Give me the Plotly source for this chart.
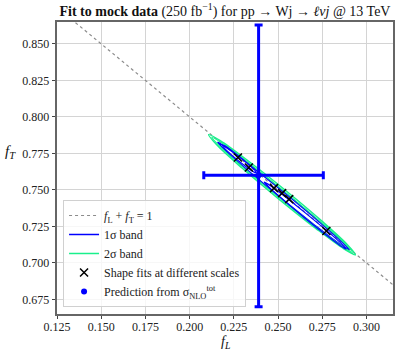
import plotly.graph_objects as go

# ---------------- data ----------------
# f_L + f_T = 1 reference line (f_L end points)
line_fl = [0.125, 0.315]
line_ft = [1 - v for v in line_fl]

# 2-sigma contour outlines
g_out_fl = [0.2938, 0.2892, 0.2748, 0.2543, 0.2332, 0.2173, 0.2107, 0.2153, 0.2298, 0.2503, 0.2713, 0.2872, 0.2938]
g_out_ft = [0.7056, 0.7125, 0.7286, 0.7496, 0.7698, 0.7838, 0.7879, 0.7809, 0.7648, 0.7439, 0.7237, 0.7097, 0.7056]
g_in_fl = [0.2921, 0.2875, 0.2734, 0.2537, 0.2336, 0.2185, 0.2125, 0.2171, 0.2311, 0.2508, 0.2709, 0.2860, 0.2921]
g_in_ft = [0.7073, 0.7136, 0.7288, 0.7488, 0.7683, 0.7819, 0.7861, 0.7798, 0.7646, 0.7446, 0.7252, 0.7116, 0.7073]

# 1-sigma contour outlines
b_out_fl = [0.2903, 0.2859, 0.2727, 0.2543, 0.2355, 0.2215, 0.2159, 0.2203, 0.2335, 0.2520, 0.2707, 0.2847, 0.2903]
b_out_ft = [0.7089, 0.7147, 0.7288, 0.7474, 0.7656, 0.7784, 0.7825, 0.7768, 0.7627, 0.7440, 0.7258, 0.7130, 0.7089]
b_up_fl = [0.2377, 0.2368, 0.2336, 0.2239, 0.2202, 0.2185, 0.2194, 0.2227, 0.2323, 0.2361, 0.2377]
b_up_ft = [0.7616, 0.7635, 0.7673, 0.7769, 0.7800, 0.7807, 0.7789, 0.7750, 0.7655, 0.7624, 0.7616]
b_lo_fl = [0.2885, 0.2858, 0.2776, 0.2661, 0.2544, 0.2457, 0.2422, 0.2449, 0.2531, 0.2645, 0.2762, 0.2850, 0.2885]
b_lo_ft = [0.7095, 0.7132, 0.7220, 0.7336, 0.7450, 0.7529, 0.7554, 0.7518, 0.7430, 0.7313, 0.7200, 0.7120, 0.7095]

# shape fits at different scales
fits_fl = [0.2273, 0.2335, 0.2477, 0.2523, 0.2563, 0.2773]
fits_ft = [0.7722, 0.7654, 0.7512, 0.7478, 0.7437, 0.7219]

# prediction from total NLO cross section
pred_fl = [0.239]
pred_ft = [0.760]
pred_fl_plus = [0.0366]
pred_fl_minus = [0.031]
pred_ft_plus = [0.103]
pred_ft_minus = [0.090]

x_ticks = [0.125, 0.150, 0.175, 0.200, 0.225, 0.250, 0.275, 0.300]
y_ticks = [0.675, 0.700, 0.725, 0.750, 0.775, 0.800, 0.825, 0.850]

# ---------------- figure ----------------
FONT = "Liberation Serif"
BLUE = "#0000ff"
GREEN = "#19f08c"

fig = go.Figure()

fig.add_trace(go.Scatter(x=line_fl, y=line_ft, mode="lines",
                         line=dict(color="#8c8c8c", width=1.2, dash="dot"),
                         name="<i>f</i><sub>L</sub> + <i>f</i><sub>T</sub> = 1"))

fig.add_trace(go.Scatter(x=b_out_fl, y=b_out_ft, mode="lines",
                         line=dict(color=BLUE, width=1.5, shape="spline"),
                         name="1σ band", legendgroup="b"))
fig.add_trace(go.Scatter(x=g_out_fl, y=g_out_ft, mode="lines",
                         line=dict(color=GREEN, width=1.5, shape="spline"),
                         name="2σ band", legendgroup="g"))
fig.add_trace(go.Scatter(x=g_in_fl, y=g_in_ft, mode="lines",
                         line=dict(color=GREEN, width=1.2, shape="spline"),
                         showlegend=False, legendgroup="g"))
fig.add_trace(go.Scatter(x=b_up_fl, y=b_up_ft, mode="lines",
                         line=dict(color=BLUE, width=1.2, shape="spline"),
                         showlegend=False, legendgroup="b"))
fig.add_trace(go.Scatter(x=b_lo_fl, y=b_lo_ft, mode="lines",
                         line=dict(color=BLUE, width=1.2, shape="spline"),
                         showlegend=False, legendgroup="b"))

fig.add_trace(go.Scatter(x=fits_fl, y=fits_ft, mode="markers",
                         marker=dict(symbol="x-thin", size=8, color="black",
                                     line=dict(color="black", width=1.5)),
                         name="Shape fits at different scales"))

fig.add_trace(go.Scatter(x=pred_fl, y=pred_ft, mode="markers",
                         marker=dict(symbol="circle", size=6, color=BLUE),
                         error_x=dict(type="data", symmetric=False, array=pred_fl_plus,
                                      arrayminus=pred_fl_minus, color=BLUE, thickness=3, width=4),
                         error_y=dict(type="data", symmetric=False, array=pred_ft_plus,
                                      arrayminus=pred_ft_minus, color=BLUE, thickness=3, width=4),
                         name="Prediction from σ<sub>NLO</sub><sup>tot</sup>"))

axis_common = dict(showgrid=True, gridcolor="#d4d4d4", gridwidth=1,
                   showline=True, linecolor="#666666", linewidth=1.5, mirror=True,
                   ticks="outside", ticklen=3.5, tickwidth=1, tickcolor="#444444",
                   tickfont=dict(family=FONT, size=12, color="#222222"),
                   zeroline=False)

fig.update_xaxes(range=[0.125, 0.315], tickvals=x_ticks, ticklabelstandoff=-3,
                 ticktext=[f"{v:.3f}" for v in x_ticks], **axis_common)
fig.update_yaxes(range=[0.665, 0.865], tickvals=y_ticks,
                 ticktext=[f"{v:.3f}" for v in y_ticks], **axis_common)

fig.update_layout(
    width=407, height=353,
    margin=dict(l=57, r=14, t=22, b=39),
    paper_bgcolor="white", plot_bgcolor="white",
    font=dict(family=FONT, size=12, color="#222222"),
    title=dict(text="<b>Fit to mock data</b> (250 fb<sup>−1</sup>) for pp → Wj → <i>ℓνj</i> @ 13 TeV",
               x=0.5, xref="paper", xanchor="center",
               y=0.968, yref="container", yanchor="middle",
               font=dict(family=FONT, size=14, color="#111111")),
    legend=dict(x=0.018, y=0.024, xanchor="left", yanchor="bottom",
                bgcolor="rgba(255,255,255,0.8)", bordercolor="#d0d0d0", borderwidth=1,
                font=dict(family=FONT, size=12, color="#222222"),
                tracegroupgap=0, itemwidth=30),
    showlegend=True,
    annotations=[
        dict(text="<i>f<sub>L</sub></i>", x=0.5, y=-0.133, xref="paper", yref="paper",
             xanchor="center", yanchor="bottom", showarrow=False,
             font=dict(family=FONT, size=14, color="#111111")),
        dict(text="<i>f<sub>T</sub></i>", x=-0.138, y=0.555, xref="paper", yref="paper",
             xanchor="center", yanchor="middle", showarrow=False,
             font=dict(family=FONT, size=15, color="#111111")),
    ],
)

fig.write_html("out.html", config={"displayModeBar": False},
               post_script="document.body.style.margin='0px';")
